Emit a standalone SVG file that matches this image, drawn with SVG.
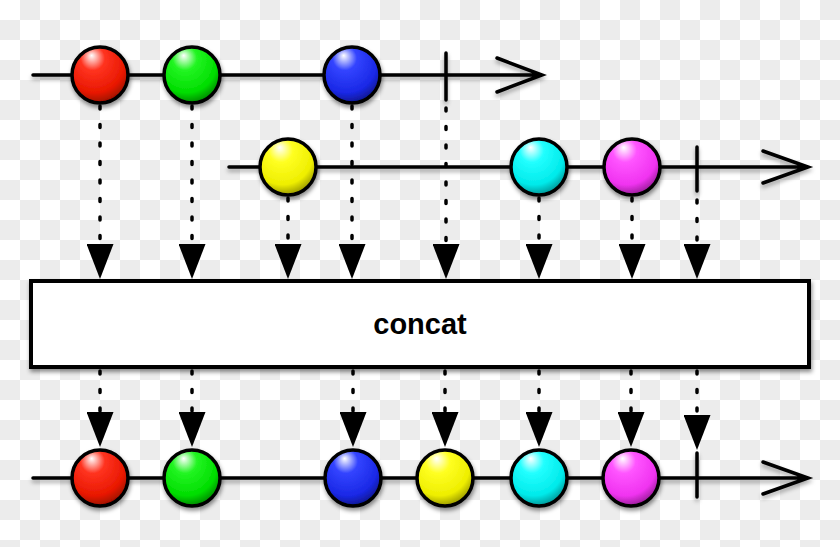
<svg xmlns="http://www.w3.org/2000/svg" width="840" height="547" viewBox="0 0 840 547">
<defs>
<pattern id="checker" width="40" height="40" patternUnits="userSpaceOnUse">
<rect width="40" height="40" fill="#ffffff"/>
<rect x="20" y="0" width="20" height="20" fill="#ececec"/>
<rect x="0" y="20" width="20" height="20" fill="#ececec"/>
</pattern>
<filter id="shadow" x="-20%" y="-20%" width="140%" height="160%">
<feDropShadow dx="1" dy="3" stdDeviation="2.2" flood-color="#000" flood-opacity="0.45"/>
</filter>
<filter id="lshadow" x="-5%" y="-50%" width="110%" height="300%">
<feDropShadow dx="0" dy="3" stdDeviation="2" flood-color="#000" flood-opacity="0.35"/>
</filter>
<marker id="tri" viewBox="0 0 35 27" refX="0" refY="13.5" markerWidth="35" markerHeight="27" markerUnits="userSpaceOnUse" orient="auto">
<path d="M0,0 L35,13.5 L0,27 Z" fill="#000"/>
</marker>
<radialGradient id="gRed" cx="0.42" cy="0.32" r="0.72" fx="0.35" fy="0.15">
<stop offset="0" stop-color="#ffffff"/><stop offset="0.3" stop-color="#ff3320"/><stop offset="0.75" stop-color="#e81800"/><stop offset="1" stop-color="#8c0e00"/>
</radialGradient>
<radialGradient id="gGreen" cx="0.42" cy="0.32" r="0.72" fx="0.35" fy="0.15">
<stop offset="0" stop-color="#ffffff"/><stop offset="0.3" stop-color="#22f522"/><stop offset="0.75" stop-color="#00dd00"/><stop offset="1" stop-color="#007a00"/>
</radialGradient>
<radialGradient id="gBlue" cx="0.42" cy="0.32" r="0.72" fx="0.35" fy="0.15">
<stop offset="0" stop-color="#ffffff"/><stop offset="0.3" stop-color="#3344ff"/><stop offset="0.75" stop-color="#1a28e6"/><stop offset="1" stop-color="#0c1480"/>
</radialGradient>
<radialGradient id="gYellow" cx="0.42" cy="0.32" r="0.72" fx="0.35" fy="0.15">
<stop offset="0" stop-color="#ffffff"/><stop offset="0.3" stop-color="#ffff22"/><stop offset="0.75" stop-color="#eeee00"/><stop offset="1" stop-color="#8a8a00"/>
</radialGradient>
<radialGradient id="gCyan" cx="0.42" cy="0.32" r="0.72" fx="0.35" fy="0.15">
<stop offset="0" stop-color="#ffffff"/><stop offset="0.3" stop-color="#22ffff"/><stop offset="0.75" stop-color="#00eaea"/><stop offset="1" stop-color="#008888"/>
</radialGradient>
<radialGradient id="gMagenta" cx="0.42" cy="0.32" r="0.72" fx="0.35" fy="0.15">
<stop offset="0" stop-color="#ffffff"/><stop offset="0.3" stop-color="#ff55ff"/><stop offset="0.75" stop-color="#f033f0"/><stop offset="1" stop-color="#8a1a8a"/>
</radialGradient>
</defs>
<style>
.tl{fill:none;stroke:#000;stroke-width:3.5;stroke-linecap:round;stroke-linejoin:miter}
.term{fill:none;stroke:#000;stroke-width:3.5;stroke-linecap:round}
.dot{fill:none;stroke:#000;stroke-width:3.5;stroke-linecap:round;stroke-dasharray:3 15.5;marker-end:url(#tri)}
.ball{stroke:#000;stroke-width:3.5}
.box{fill:#ffffff;stroke:#000;stroke-width:4}
.lbl{font-family:"Liberation Sans",Arial,sans-serif;font-weight:bold;font-size:29px;fill:#000}
</style>
<rect width="840" height="547" fill="url(#checker)"/>

<g id="timelines" filter="url(#lshadow)">
<path class="tl" d="M33,75 H541 M497,58 L542,75 L497,92"/>
<path class="term" d="M446,53 V100"/>
<path class="tl" d="M229,167 H807 M763,151 L808,167 L763,183"/>
<path class="term" d="M697,147 V191"/>
<path class="tl" d="M33,478 H807 M763,462 L808,478 L763,494"/>
<path class="term" d="M697,453 V497"/>
</g>

<g id="connectors">
<line class="dot" x1="100" y1="106" x2="100" y2="244"/>
<line class="dot" x1="192" y1="106" x2="192" y2="244"/>
<line class="dot" x1="352" y1="106" x2="352" y2="244"/>
<line class="dot" x1="446" y1="108" x2="446" y2="244"/>
<line class="dot" x1="288" y1="198" x2="288" y2="244"/>
<line class="dot" x1="539" y1="198" x2="539" y2="244"/>
<line class="dot" x1="632" y1="198" x2="632" y2="244"/>
<line class="dot" x1="697" y1="200" x2="697" y2="244"/>
<line class="dot" x1="100" y1="371" x2="100" y2="412"/>
<line class="dot" x1="192" y1="371" x2="192" y2="412"/>
<line class="dot" x1="353" y1="371" x2="353" y2="412"/>
<line class="dot" x1="445" y1="371" x2="445" y2="412"/>
<line class="dot" x1="539" y1="371" x2="539" y2="412"/>
<line class="dot" x1="631" y1="371" x2="631" y2="412"/>
<line class="dot" x1="697" y1="371" x2="697" y2="415"/>
</g>

<g id="in1-red" filter="url(#shadow)"><circle class="ball" cx="100" cy="75" r="28" fill="url(#gRed)"/></g>
<g id="in1-green" filter="url(#shadow)"><circle class="ball" cx="192" cy="75" r="28" fill="url(#gGreen)"/></g>
<g id="in1-blue" filter="url(#shadow)"><circle class="ball" cx="352" cy="75" r="28" fill="url(#gBlue)"/></g>
<g id="in2-yellow" filter="url(#shadow)"><circle class="ball" cx="288" cy="167" r="28" fill="url(#gYellow)"/></g>
<g id="in2-cyan" filter="url(#shadow)"><circle class="ball" cx="539" cy="167" r="28" fill="url(#gCyan)"/></g>
<g id="in2-magenta" filter="url(#shadow)"><circle class="ball" cx="632" cy="167" r="28" fill="url(#gMagenta)"/></g>

<g id="concat-box">
<rect class="box" x="31" y="281" width="778" height="86" filter="url(#shadow)"/>
<text class="lbl" x="420" y="334" text-anchor="middle">concat</text>
</g>

<g id="out-red" filter="url(#shadow)"><circle class="ball" cx="100" cy="478" r="28" fill="url(#gRed)"/></g>
<g id="out-green" filter="url(#shadow)"><circle class="ball" cx="192" cy="478" r="28" fill="url(#gGreen)"/></g>
<g id="out-blue" filter="url(#shadow)"><circle class="ball" cx="353" cy="478" r="28" fill="url(#gBlue)"/></g>
<g id="out-yellow" filter="url(#shadow)"><circle class="ball" cx="445" cy="478" r="28" fill="url(#gYellow)"/></g>
<g id="out-cyan" filter="url(#shadow)"><circle class="ball" cx="539" cy="478" r="28" fill="url(#gCyan)"/></g>
<g id="out-magenta" filter="url(#shadow)"><circle class="ball" cx="631" cy="478" r="28" fill="url(#gMagenta)"/></g>
</svg>
